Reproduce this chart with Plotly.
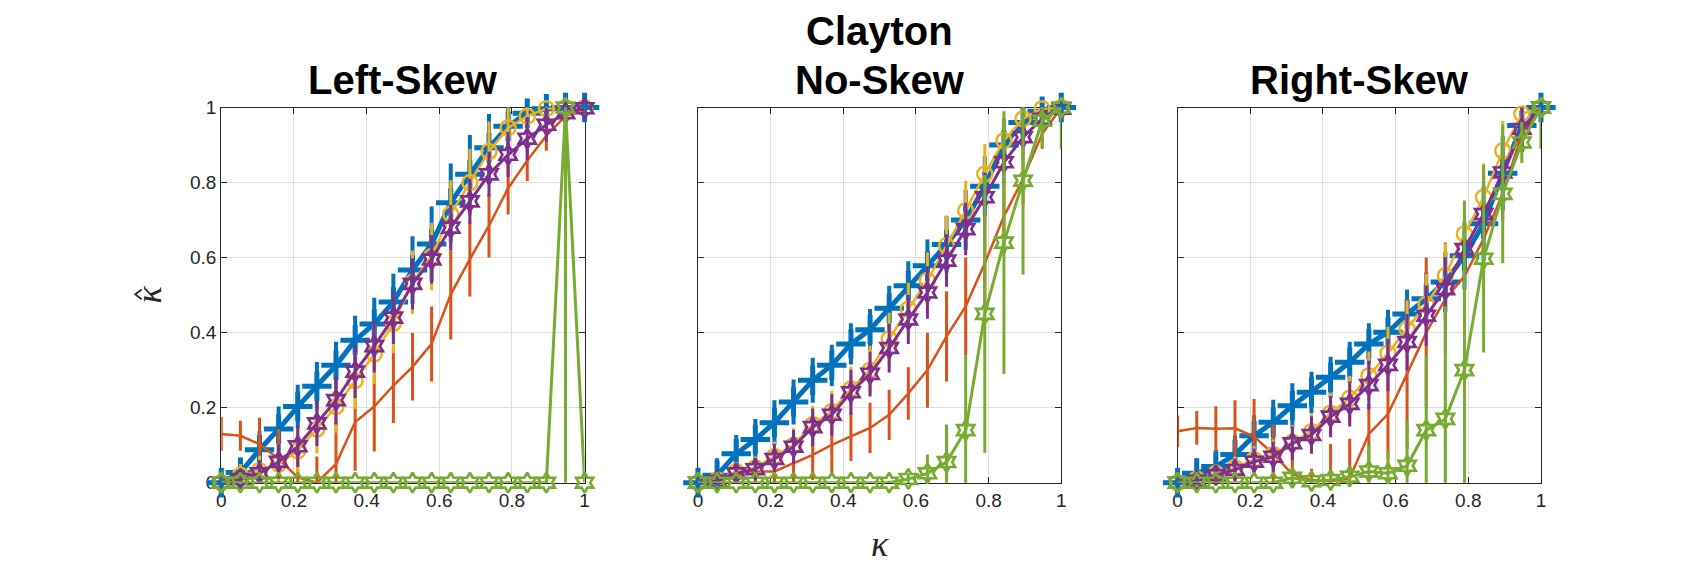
import plotly.graph_objects as go

# ---------------- data ----------------
kappa = [i / 19 for i in range(20)]

# Left-Skew
blue_L = [0, 0.027, 0.088, 0.143, 0.203, 0.257, 0.313, 0.38, 0.423, 0.482, 0.567, 0.636, 0.746, 0.822, 0.893, 0.95, 0.985, 0.997, 1.0, 1.0]
blue_L_err = [0.04, 0.04, 0.05, 0.06, 0.058, 0.065, 0.063, 0.065, 0.07, 0.075, 0.09, 0.1, 0.105, 0.105, 0.09, 0.06, 0.03, 0.02, 0.01, 0.01]
red_L = [0.13, 0.125, 0.103, 0.063, 0.014, 0.0, 0.05, 0.162, 0.203, 0.259, 0.309, 0.37, 0.502, 0.596, 0.685, 0.785, 0.859, 0.925, 0.977, 0.995]
red_L_err = [0.045, 0.04, 0.07, 0.08, 0.08, 0.07, 0.12, 0.13, 0.12, 0.1, 0.09, 0.1, 0.12, 0.1, 0.085, 0.07, 0.055, 0.04, 0.03, 0.01]
yel_L = [0.0, 0.02, 0.032, 0.05, 0.085, 0.143, 0.203, 0.272, 0.343, 0.425, 0.534, 0.603, 0.716, 0.8, 0.883, 0.946, 0.977, 0.997, 1.0, 1.0]
yel_L_err = [0.03, 0.03, 0.04, 0.05, 0.06, 0.065, 0.07, 0.075, 0.08, 0.08, 0.085, 0.09, 0.09, 0.09, 0.08, 0.06, 0.04, 0.03, 0.01, 0.01]
pur_L = [0.0, 0.01, 0.025, 0.056, 0.097, 0.158, 0.22, 0.296, 0.364, 0.44, 0.53, 0.595, 0.68, 0.75, 0.822, 0.874, 0.917, 0.954, 0.985, 0.998]
pur_L_err = [0.02, 0.025, 0.035, 0.045, 0.055, 0.06, 0.065, 0.07, 0.07, 0.07, 0.068, 0.065, 0.06, 0.06, 0.06, 0.06, 0.058, 0.045, 0.03, 0.03]
grn_L = [0, 0, 0, 0, 0, 0, 0, 0, 0, 0, 0, 0, 0, 0, 0, 0, 0, 0, 1.0, 0.0]
grn_L_err = [0, 0, 0, 0, 0, 0, 0, 0, 0, 0, 0, 0, 0, 0, 0, 0, 0, 0.02, 1.0, 0]

# No-Skew
blue_M = [0, 0.02, 0.077, 0.115, 0.16, 0.215, 0.273, 0.313, 0.37, 0.408, 0.465, 0.525, 0.578, 0.635, 0.70, 0.79, 0.90, 0.96, 0.99, 1.0]
blue_M_err = [0.04, 0.045, 0.05, 0.055, 0.06, 0.06, 0.06, 0.055, 0.055, 0.055, 0.06, 0.065, 0.07, 0.075, 0.08, 0.08, 0.07, 0.05, 0.03, 0.01]
red_M = [0, 0.005, 0.018, 0.03, 0.03, 0.052, 0.074, 0.101, 0.123, 0.146, 0.181, 0.238, 0.30, 0.39, 0.47, 0.585, 0.71, 0.81, 0.93, 1.0]
red_M_err = [0.01, 0.02, 0.03, 0.04, 0.04, 0.05, 0.067, 0.08, 0.065, 0.067, 0.067, 0.07, 0.1, 0.12, 0.13, 0.12, 0.1, 0.07, 0.04, 0.01]
yel_M = [0, 0.008, 0.03, 0.04, 0.07, 0.10, 0.155, 0.19, 0.25, 0.30, 0.383, 0.463, 0.539, 0.632, 0.725, 0.823, 0.912, 0.97, 0.997, 1.0]
yel_M_err = [0.02, 0.02, 0.025, 0.03, 0.04, 0.045, 0.05, 0.055, 0.06, 0.065, 0.07, 0.07, 0.075, 0.08, 0.08, 0.08, 0.06, 0.04, 0.02, 0.01]
pur_M = [0, 0.005, 0.025, 0.036, 0.063, 0.096, 0.148, 0.181, 0.241, 0.29, 0.359, 0.435, 0.507, 0.592, 0.676, 0.761, 0.854, 0.921, 0.97, 0.997]
pur_M_err = [0.02, 0.02, 0.025, 0.03, 0.04, 0.045, 0.05, 0.055, 0.06, 0.06, 0.065, 0.065, 0.07, 0.07, 0.07, 0.065, 0.06, 0.045, 0.03, 0.01]
grn_M = [0, 0, 0, 0, 0, 0, 0, 0, 0, 0, 0, 0.01, 0.025, 0.055, 0.14, 0.45, 0.64, 0.805, 0.965, 1.0]
grn_M_err = [0, 0, 0, 0, 0, 0, 0, 0, 0, 0, 0.005, 0.015, 0.05, 0.1, 0.2, 0.37, 0.35, 0.25, 0.07, 0.11]

# Right-Skew
blue_R = [0, 0.025, 0.043, 0.075, 0.125, 0.161, 0.205, 0.241, 0.281, 0.321, 0.37, 0.401, 0.45, 0.49, 0.535, 0.605, 0.69, 0.825, 0.952, 1.0]
blue_R_err = [0.04, 0.04, 0.045, 0.05, 0.055, 0.06, 0.06, 0.055, 0.055, 0.055, 0.055, 0.06, 0.065, 0.07, 0.08, 0.09, 0.1, 0.1, 0.07, 0.02]
red_R = [0.137, 0.146, 0.144, 0.145, 0.123, 0.076, 0.023, 0.007, 0.003, 0.012, 0.13, 0.183, 0.29, 0.40, 0.49, 0.55, 0.65, 0.77, 0.93, 1.0]
red_R_err = [0.042, 0.045, 0.06, 0.075, 0.1, 0.08, 0.06, 0.03, 0.1, 0.105, 0.08, 0.12, 0.2, 0.2, 0.15, 0.12, 0.09, 0.07, 0.04, 0.01]
yel_R = [0, 0.01, 0.025, 0.04, 0.062, 0.075, 0.108, 0.136, 0.185, 0.225, 0.285, 0.345, 0.41, 0.476, 0.552, 0.663, 0.761, 0.885, 0.983, 1.0]
yel_R_err = [0.02, 0.02, 0.025, 0.03, 0.035, 0.04, 0.045, 0.05, 0.055, 0.06, 0.065, 0.07, 0.075, 0.08, 0.085, 0.09, 0.09, 0.08, 0.04, 0.02]
pur_R = [0, 0.005, 0.02, 0.034, 0.056, 0.069, 0.105, 0.127, 0.176, 0.21, 0.26, 0.314, 0.375, 0.445, 0.516, 0.623, 0.716, 0.827, 0.943, 1.0]
pur_R_err = [0.02, 0.02, 0.025, 0.03, 0.035, 0.04, 0.045, 0.05, 0.055, 0.06, 0.065, 0.07, 0.075, 0.08, 0.085, 0.09, 0.09, 0.08, 0.06, 0.03]
grn_R = [0, 0, 0, 0, 0, 0, 0.013, 0.004, 0.007, 0.016, 0.03, 0.025, 0.045, 0.14, 0.17, 0.30, 0.597, 0.77, 0.907, 1.0]
grn_R_err = [0, 0, 0, 0, 0, 0.005, 0.02, 0.01, 0.02, 0.03, 0.07, 0.06, 0.12, 0.2, 0.3, 0.45, 0.25, 0.185, 0.055, 0.11]

panel_titles = ["Left-Skew", "No-Skew", "Right-Skew"]
main_title = "Clayton"
x_label = "κ"
y_label = "κ"
tick_vals = [0, 0.2, 0.4, 0.6, 0.8, 1]
tick_text = ["0", "0.2", "0.4", "0.6", "0.8", "1"]

# ---------------- styling ----------------
BLUE = "#0072BD"
RED = "#D95319"
YEL = "#EDB120"
PUR = "#7E2F8E"
GRN = "#77AC30"
AXC = "#262626"
GRID = "#dfdfdf"
W, H = 1700, 566
SANS = "Liberation Sans, Arial, sans-serif"
SERIF = "Liberation Serif, DejaVu Serif, serif"

panels = [
    (blue_L, blue_L_err, red_L, red_L_err, yel_L, yel_L_err, pur_L, pur_L_err, grn_L, grn_L_err),
    (blue_M, blue_M_err, red_M, red_M_err, yel_M, yel_M_err, pur_M, pur_M_err, grn_M, grn_M_err),
    (blue_R, blue_R_err, red_R, red_R_err, yel_R, yel_R_err, pur_R, pur_R_err, grn_R, grn_R_err),
]
x_px = [(209.5, 575.0), (689.0, 1054.5), (1171.5, 1537.0)]
y_px = (93.0, 482.6)

fig = go.Figure()


def err(arr, col, th):
    return dict(type="data", array=arr, visible=True, color=col, thickness=th, width=0)


for p, data in enumerate(panels):
    b, be, r, re_, yv, ye, pu, pe, g, ge = data
    xa = "x" if p == 0 else f"x{p+1}"
    ya = "y" if p == 0 else f"y{p+1}"
    fig.add_trace(go.Scatter(x=kappa, y=b, mode="lines+markers", xaxis=xa, yaxis=ya,
                             line=dict(color=BLUE, width=5),
                             marker=dict(symbol="cross-thin", size=21, color=BLUE,
                                         line=dict(color=BLUE, width=5)),
                             error_y=err(be, BLUE, 4), cliponaxis=False, showlegend=False))
    fig.add_trace(go.Scatter(x=kappa, y=r, mode="lines", xaxis=xa, yaxis=ya,
                             line=dict(color=RED, width=2.5),
                             error_y=err(re_, RED, 3), cliponaxis=False, showlegend=False))
    fig.add_trace(go.Scatter(x=kappa, y=yv, mode="lines+markers", xaxis=xa, yaxis=ya,
                             line=dict(color=YEL, width=2.5),
                             marker=dict(symbol="circle-open", size=15, color=YEL,
                                         line=dict(color=YEL, width=2.5)),
                             error_y=err(ye, YEL, 3), cliponaxis=False, showlegend=False))
    fig.add_trace(go.Scatter(x=kappa, y=pu, mode="lines+markers", xaxis=xa, yaxis=ya,
                             line=dict(color=PUR, width=3),
                             marker=dict(symbol="hexagram-open", size=15, color=PUR,
                                         line=dict(color=PUR, width=2.7)),
                             error_y=err(pe, PUR, 3), cliponaxis=False, showlegend=False))
    fig.add_trace(go.Scatter(x=kappa, y=g, mode="lines+markers", xaxis=xa, yaxis=ya,
                             line=dict(color=GRN, width=3),
                             marker=dict(symbol="hexagram-open", size=15, color=GRN,
                                         line=dict(color=GRN, width=2.7)),
                             error_y=err(ge, GRN, 3), cliponaxis=False, showlegend=False))

layout = dict(
    width=W, height=H, margin=dict(l=0, r=0, t=0, b=0),
    paper_bgcolor="white", plot_bgcolor="white",
    font=dict(family=SANS, color=AXC, size=19),
)
for p in range(3):
    x0, x1 = x_px[p]
    xk = "xaxis" if p == 0 else f"xaxis{p+1}"
    yk = "yaxis" if p == 0 else f"yaxis{p+1}"
    xa = "x" if p == 0 else f"x{p+1}"
    ya = "y" if p == 0 else f"y{p+1}"
    common = dict(range=[0, 1], tickvals=tick_vals, ticktext=tick_text,
                  showgrid=True, gridcolor=GRID, gridwidth=1, zeroline=False,
                  showline=True, linecolor=AXC, linewidth=1.2, mirror="ticks",
                  ticks="inside", ticklen=6, tickcolor=AXC,
                  tickfont=dict(size=19, color=AXC, family=SANS), layer="below traces")
    layout[xk] = dict(domain=[x0 / W, x1 / W], anchor=ya, **common)
    layout[yk] = dict(domain=[1 - y_px[1] / H, 1 - y_px[0] / H], anchor=xa,
                      showticklabels=(p == 0), **common)
fig.update_layout(**layout)

ann = []
for p in range(3):
    x0, x1 = x_px[p]
    ann.append(dict(text=f"<b>{panel_titles[p]}</b>", x=(x0 + x1) / 2 / W, y=1 - 64 / H,
                    xref="paper", yref="paper", xanchor="center", yanchor="middle",
                    showarrow=False, font=dict(size=40, color="black", family=SANS)))
mid_c = (x_px[1][0] + x_px[1][1]) / 2 / W
ann.append(dict(text=f"<b>{main_title}</b>", x=mid_c, y=1 - 13 / H,
                xref="paper", yref="paper", xanchor="center", yanchor="middle",
                showarrow=False, font=dict(size=40, color="black", family=SANS)))
ann.append(dict(text=f"<i>{x_label}</i>", x=mid_c, y=1 - 546 / H,
                xref="paper", yref="paper", xanchor="center", yanchor="middle",
                showarrow=False, font=dict(size=36, color=AXC, family=SERIF)))
# y label: italic kappa, rotated, with a hat drawn on its left (top when rotated)
ann.append(dict(text=f"<i>{y_label}</i>", x=137 / W, y=1 - 287 / H,
                xref="paper", yref="paper", xanchor="center", yanchor="middle", textangle=-90,
                showarrow=False, font=dict(size=36, color=AXC, family=SERIF)))
fig.update_layout(annotations=ann)

# circumflex of the hat, drawn as a small chevron in paper coordinates
hx_tip, hx_arm, hy_c, hy_half = 123.0, 129.5, 287.0, 5.0
fig.add_shape(type="path", xref="paper", yref="paper",
              path=(f"M {hx_arm / W} {1 - (hy_c - hy_half) / H} "
                    f"L {hx_tip / W} {1 - hy_c / H} "
                    f"L {hx_arm / W} {1 - (hy_c + hy_half) / H}"),
              line=dict(color=AXC, width=1.8))

fig.write_html("out.html")
